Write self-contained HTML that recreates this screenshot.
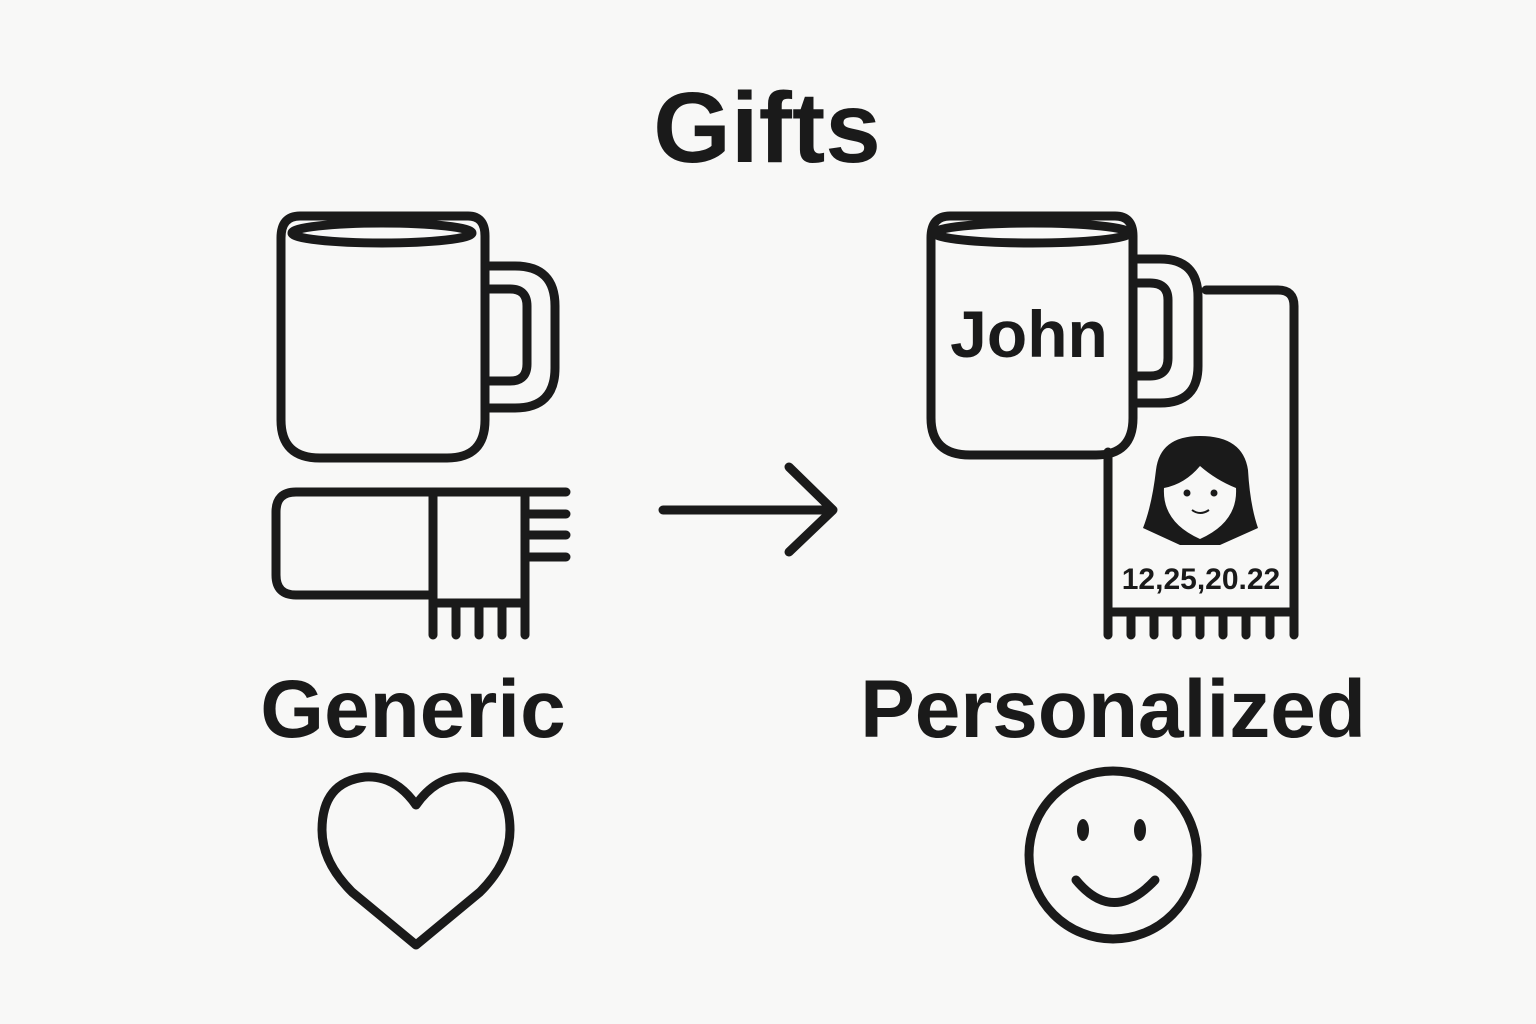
<!DOCTYPE html>
<html><head><meta charset="utf-8"><style>
html,body{margin:0;padding:0;background:#f8f8f7;}
svg{display:block}
text{font-family:"Liberation Sans",sans-serif;font-weight:bold;fill:#1a1a1a}
</style></head><body>
<svg width="1536" height="1024" viewBox="0 0 1536 1024" xmlns="http://www.w3.org/2000/svg">
<rect width="1536" height="1024" fill="#f8f8f7"/>
<text x="767" y="162" font-size="100" text-anchor="middle">Gifts</text>
<g fill="none" stroke="#1a1a1a" stroke-width="9" stroke-linecap="round" stroke-linejoin="round">
<path d="M281,238 Q281,216 300,216 L468,216 Q485,216 485,236 L485,420 Q485,458 447,458 L320,458 Q281,458 281,420 Z"/>
<ellipse cx="382" cy="233" rx="90" ry="10"/>
<path d="M485,266 L515,266 Q555,266 555,306 L555,368 Q555,408 515,408 L485,408"/>
<path d="M485,289 L510,289 Q527,289 527,306 L527,364 Q527,381 510,381 L485,381"/>
<path d="M525,492 L296,492 Q276,492 276,512 L276,575 Q276,595 296,595 L433,595"/>
<path d="M433,492 L433,635 M433,603 L525,603 M525,495 L525,635"/>
<path d="M525,492 L566,492 M525,514 L566,514 M525,535 L566,535 M525,557 L566,557"/>
<path d="M456,603 L456,635 M479,603 L479,635 M502,603 L502,635"/>
<path d="M663,510 L833,510 M789,467 L833,510 L789,552"/>
<path d="M931,238 Q931,216 950,216 L1115,216 Q1133,216 1133,236 L1133,418 Q1133,455 1096,455 L970,455 Q931,455 931,418 Z"/>
<ellipse cx="1032" cy="233" rx="97" ry="10"/>
<path d="M1133,259 L1160,259 Q1198,259 1198,297 L1198,366 Q1198,403 1160,403 L1133,403"/>
<path d="M1133,283 L1150,283 Q1168,283 1168,300 L1168,358 Q1168,376 1150,376 L1133,376"/>
<path d="M1206,290 L1278,290 Q1294,290 1294,306 L1294,635"/>
<path d="M1108,452 L1108,635 M1108,612 L1294,612"/>
<path d="M1131,612 L1131,635 M1154,612 L1154,635 M1177,612 L1177,635 M1200,612 L1200,635 M1223,612 L1223,635 M1246,612 L1246,635 M1270,612 L1270,635"/>
<path d="M416,805 Q395,775 365,777 Q322,782 322,830 Q322,862 352,892 L416,945 L480,892 Q510,862 510,830 Q510,782 467,777 Q437,775 416,805 Z"/>
<circle cx="1113" cy="855" r="84"/>
<path d="M1076,880 Q1113,925 1155,880"/>
</g>
<ellipse cx="1083" cy="830" rx="6" ry="11" fill="#1a1a1a"/>
<ellipse cx="1140" cy="830" rx="6" ry="11" fill="#1a1a1a"/>
<path d="M1200,436 Q1160,436 1156,470 Q1152,505 1143,528 L1180,545 L1220,545 L1258,528 Q1250,505 1248,470 Q1243,436 1200,436 Z" fill="#1a1a1a"/>
<path d="M1200,466 Q1185,484 1164,488 Q1162,522 1200,539 Q1238,522 1236,488 Q1216,480 1200,466 Z" fill="#f8f8f7"/>
<circle cx="1187" cy="493" r="3.5" fill="#1a1a1a"/>
<circle cx="1214" cy="493" r="3.5" fill="#1a1a1a"/>
<path d="M1192,510 Q1200,516 1209,510" stroke="#1a1a1a" stroke-width="2" fill="none"/>
<text x="1201" y="589" font-size="30" text-anchor="middle">12,25,20.22</text>
<text x="1029" y="357" font-size="66" text-anchor="middle">John</text>
<text x="413" y="737" font-size="82" text-anchor="middle">Generic</text>
<text x="1113" y="737" font-size="82" text-anchor="middle">Personalized</text>
</svg>
</body></html>
